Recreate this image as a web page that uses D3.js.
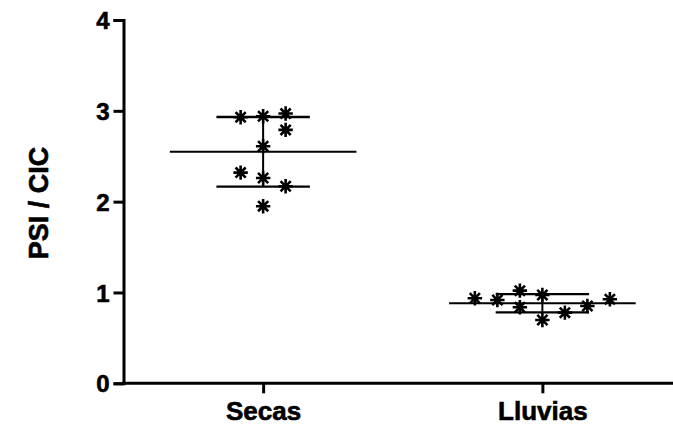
<!DOCTYPE html>
<html>
<head>
<meta charset="utf-8">
<script src="https://cdn.jsdelivr.net/npm/d3@7"></script>
<style>
  html, body { margin: 0; padding: 0; background: #fff; }
  svg { display: block; font-family: "Liberation Sans", Arial, Helvetica, sans-serif; font-weight: bold; }
</style>
</head>
<body>
<svg id="chart" width="673" height="426"></svg>
<script>
// Season groups on the x axis
const categories = ["Secas", "Lluvias"];

// PSI / CIC ratio per sample
const secasValues   = [2.93, 2.94, 2.97, 2.79, 2.61, 2.32, 2.26, 2.17, 1.95];
const lluviasValues = [0.936, 0.917, 1.02, 0.837, 0.972, 0.697, 0.778, 0.851, 0.925];

// Horizontal spread slot of each sample inside its group (scatter dot-plot layout)
const secasSlots   = [-1, 0, 1, 1, 0, -1, 0, 1, 0];
const lluviasSlots = [-3, -2, -1, -1, 0, 0, 1, 2, 3];

const yTicks = [0, 1, 2, 3, 4];
const yLabel = "PSI / CIC";

const groups = [
  { name: categories[0], values: secasValues, slots: secasSlots },
  { name: categories[1], values: lluviasValues, slots: lluviasSlots }
];

const svg = d3.select("#chart");

const x = d3.scalePoint().domain(categories).range([123.5, 682]).padding(0.5);
const y = d3.scaleLinear().domain([0, 4]).range([383.3, 20]);
const slotStep = 22.5;

// Slightly heavier lettering
function heavy(sel) {
  sel.attr("fill", "#000").attr("stroke", "#000").attr("stroke-width", 0.6).style("font-weight", "bold");
}

// Axes
const yAxis = svg.append("g")
  .attr("transform", "translate(123.5,0)")
  .call(d3.axisLeft(y).tickValues(yTicks).tickFormat(d3.format("d")).tickSizeOuter(0).tickSize(10).tickPadding(4));
yAxis.select(".domain").attr("stroke", "#000").attr("stroke-width", 3);
yAxis.selectAll(".tick line").attr("stroke", "#000").attr("stroke-width", 3);
yAxis.selectAll(".tick text").call(heavy).style("font-size", "24px").attr("dy", "0.36em");

const xAxis = svg.append("g")
  .attr("transform", "translate(0,383.3)")
  .call(d3.axisBottom(x).tickSizeOuter(0).tickSize(10).tickPadding(8));
xAxis.select(".domain").attr("stroke", "#000").attr("stroke-width", 3).attr("d", "M122,0H682");
xAxis.selectAll(".tick line").attr("stroke", "#000").attr("stroke-width", 3);
xAxis.selectAll(".tick text").call(heavy).style("font-size", "26px");

// Y axis title
svg.append("text")
  .attr("transform", "translate(48,203) rotate(-90)")
  .attr("text-anchor", "middle")
  .style("font-size", "27px")
  .call(heavy)
  .text(yLabel);

// Asterisk marker: four strokes through the center
const r = 7.2;
const starPath = [0, 45, 90, 135].map(a => {
  const t = a * Math.PI / 180;
  const dx = r * Math.cos(t), dy = r * Math.sin(t);
  return `M${-dx},${-dy}L${dx},${dy}`;
}).join("");

const meanHalf = 93.3, sdHalf = 46.7;

groups.forEach(g => {
  const cx = x(g.name);
  const gEl = svg.append("g");

  gEl.selectAll("path.pt")
    .data(g.values.map((v, i) => ({ v, s: g.slots[i] })))
    .join("path")
    .attr("class", "pt")
    .attr("transform", d => `translate(${cx + d.s * slotStep},${y(d.v)})`)
    .attr("d", starPath)
    .attr("stroke", "#000")
    .attr("stroke-width", 2.6)
    .attr("fill", "none");

  const m = d3.mean(g.values);
  const sd = d3.deviation(g.values);

  // mean line
  gEl.append("line")
    .attr("x1", cx - meanHalf).attr("x2", cx + meanHalf)
    .attr("y1", y(m)).attr("y2", y(m))
    .attr("stroke", "#000").attr("stroke-width", 2);
  // SD whisker
  gEl.append("line")
    .attr("x1", cx).attr("x2", cx)
    .attr("y1", y(m + sd)).attr("y2", y(m - sd))
    .attr("stroke", "#000").attr("stroke-width", 2);
  [m + sd, m - sd].forEach(v => {
    gEl.append("line")
      .attr("x1", cx - sdHalf).attr("x2", cx + sdHalf)
      .attr("y1", y(v)).attr("y2", y(v))
      .attr("stroke", "#000").attr("stroke-width", 2.4);
  });
});
</script>
</body>
</html>
